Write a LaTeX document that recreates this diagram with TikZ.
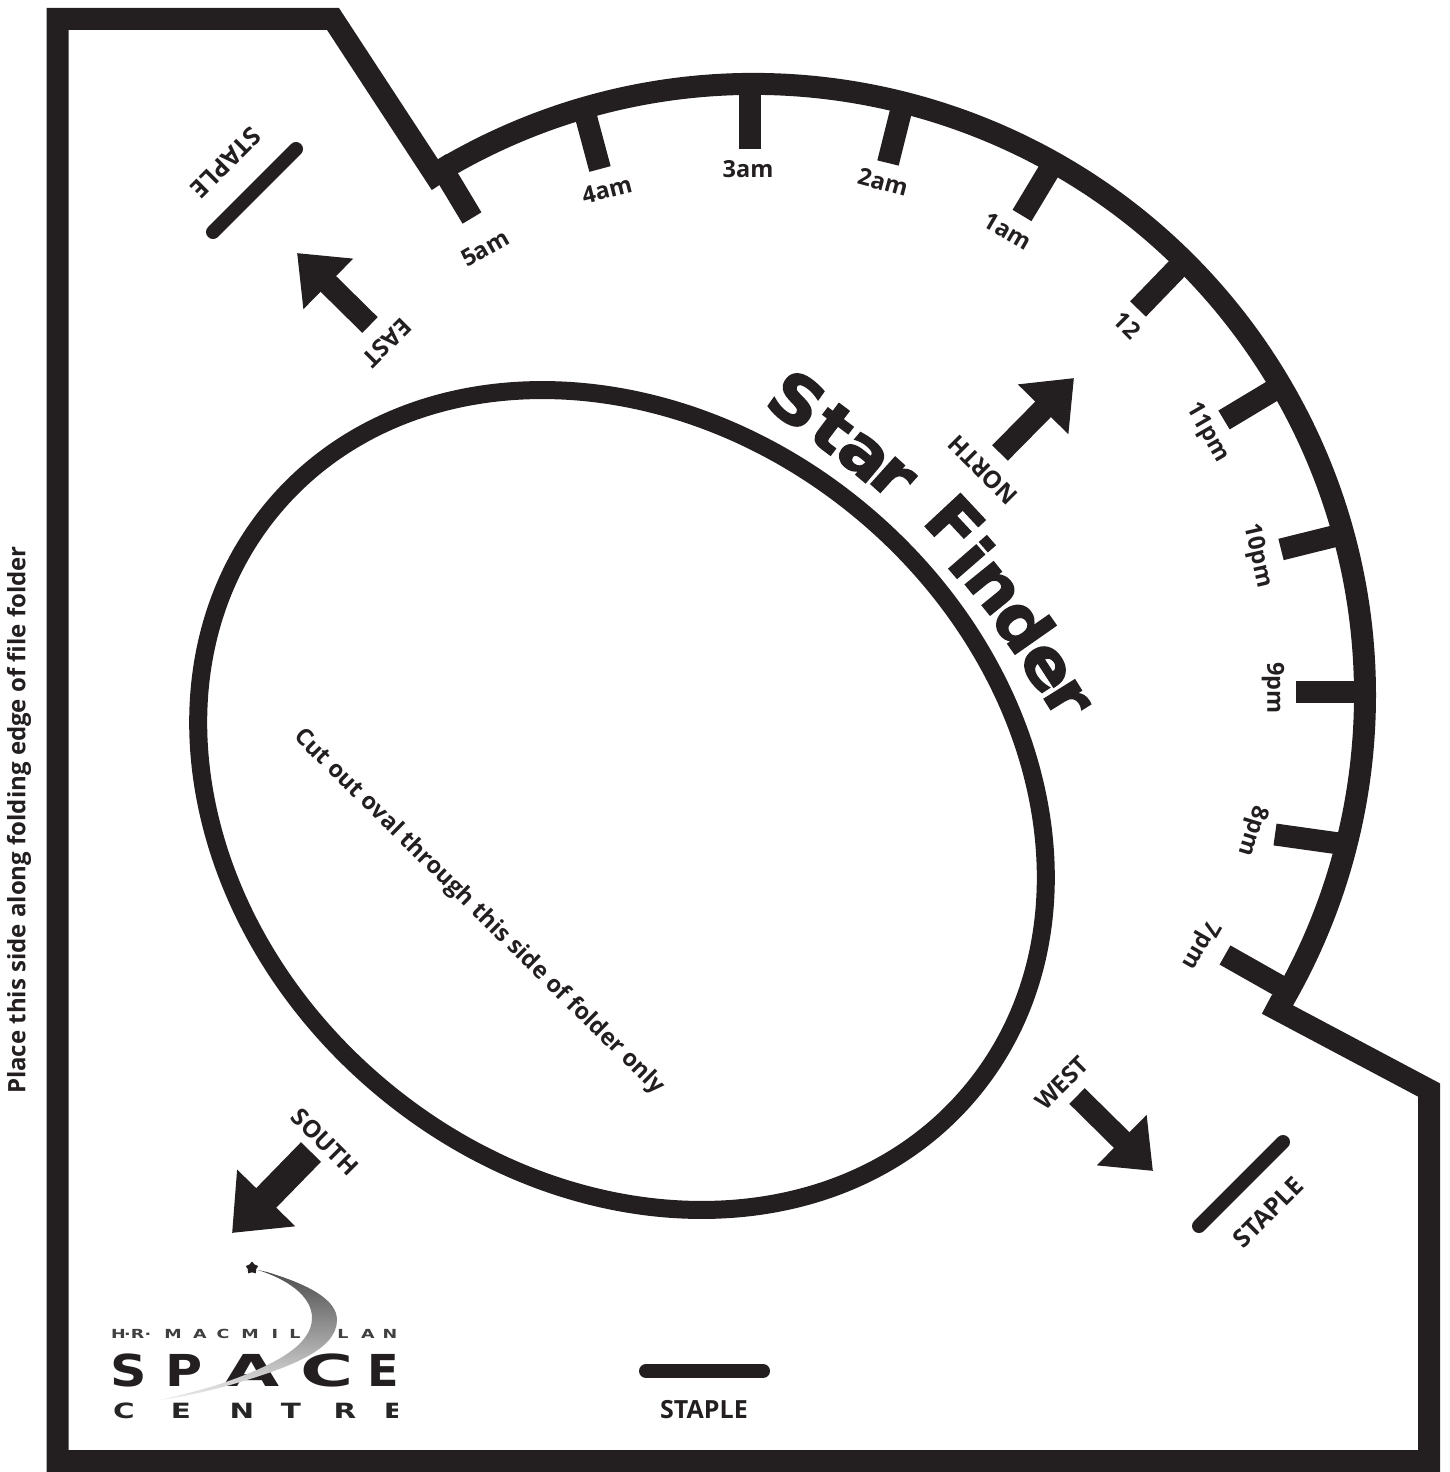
\documentclass[tikz,border=0pt]{standalone}
\usepackage{fontspec}
\setmainfont{Open Sans}
\newfontfamily\titlefont[BoldFeatures={FakeBold=2.2,FakeStretch=1.08}]{DejaVu Sans}
\newfontfamily\logofont{DejaVu Sans}
\usetikzlibrary{arrows.meta,shapes.geometric}
\definecolor{ink}{HTML}{231F20}

\begin{document}
\begin{tikzpicture}[
  x=1pt,y=-1pt,
  outline/.style={draw=ink,line width=22pt,miter limit=10},
  tickmark/.style={draw=ink,line width=22pt},
  staplemark/.style={draw=ink,line width=14pt,line cap=round},
  pointer/.style={draw=ink,line width=22pt,-{Triangle[length=44pt,width=68pt,fill=ink]}},
  bigpointer/.style={draw=ink,line width=28pt,-{Triangle[length=49pt,width=78pt,fill=ink]}},
  hourlabel/.style={text=ink,font=\bfseries\fontsize{23.5}{23.5}\selectfont,inner sep=0pt},
  dirlabel/.style={text=ink,font=\fontsize{24}{24}\selectfont\bfseries,inner sep=0pt},
  staplelabel/.style={text=ink,font=\fontsize{25}{25}\selectfont\bfseries,inner sep=0pt},
  titleletter/.style={text=ink,font=\titlefont\bfseries\fontsize{66}{66}\selectfont,inner sep=0pt},
  logoletter/.style={text=ink,inner sep=0pt,transform shape}
]
  \useasboundingbox (0,0) rectangle (1450,1472);
  \coordinate (hub) at (754,695);

  % folder outline and oval
  \draw[outline] (1267,1004) -- (1429,1090) -- (1429,1461) -- (57.5,1461)
    -- (57.5,19) -- (333,19) -- (441,184);
  \draw[draw=ink,line width=18pt] (622,800) ellipse[x radius=455,y radius=375,rotate=-40];

  % hour scale
  \draw[tickmark] (hub) ++(120:611pt) arc[start angle=120,end angle=-31,radius=611pt];
  \foreach \hr/\ix/\iy/\ang/\lx/\ly/\rot in {5am/472/218/121/485/248/30,4am/600/169/105/607/190/14,
    3am/750/149/90/748/169/0,2am/888/163/76/883/182/-15,1am/1022/215.5/59/1008/231/-30,
    12/1138/309/46/1127/325/-45,11pm/1224/420/31/1207/433/-60,10pm/1281/549.5/14/1257/556/-77,
    9pm/1296/691.5/0/1273/688/-90,8pm/1275/834.5/-8/1252/831/-107,7pm/1225/955/-29.5/1200/945/-120}{
    \draw[tickmark] (\ix,\iy) -- ++(\ang:68pt);
    \node[hourlabel,rotate=\rot] (lbl\hr) at (\lx,\ly) {\hr};
  }

  % title, set letter by letter along the oval
  \foreach \i/\ch/\px/\py/\ang in {1/S/797/400/-35,2/t/833/428/-37,3/a/863/457/-40,4/r/892/478/-42,
    5/F/955/523/-47,6/i/972/557/-49,7/n/992/588/-51,8/d/1024/624/-55,9/e/1045/668/-57,10/r/1066/699/-58}{
    \node[titleletter,rotate=\ang] (title\i) at (\px,\py) {\ch};
  }

  % direction arrows
  \coordinate (northtail) at (1000,453);
  \coordinate (northtip) at (1074,378);
  \coordinate (easttail) at (370,325);
  \coordinate (easttip) at (297,253);
  \coordinate (westtail) at (1077,1096);
  \coordinate (westtip) at (1153,1171);
  \coordinate (southtail) at (311,1152);
  \coordinate (southtip) at (232,1233);
  \draw[pointer] (northtail) -- (northtip);
  \draw[pointer] (easttail) -- (easttip);
  \draw[pointer] (westtail) -- (westtip);
  \draw[bigpointer] (southtail) -- (southtip);
  \node[dirlabel,rotate=135] (north) at (983,470) {NORTH};
  \node[dirlabel,rotate=225] (east) at (387,343) {EAST};
  \node[dirlabel,rotate=45] (west) at (1062,1083) {WEST};
  \node[dirlabel,rotate=-45] (south) at (325,1142) {SOUTH};

  % staples
  \coordinate (stapleAa) at (296,149);
  \coordinate (stapleAb) at (213,232);
  \coordinate (stapleBa) at (1283,1142);
  \coordinate (stapleBb) at (1199,1226);
  \coordinate (stapleCa) at (646,1371);
  \coordinate (stapleCb) at (763,1371);
  \draw[staplemark] (stapleAa) -- (stapleAb);
  \draw[staplemark] (stapleBa) -- (stapleBb);
  \draw[staplemark] (stapleCa) -- (stapleCb);
  \node[staplelabel,rotate=225] (stapleA) at (226,163) {STAPLE};
  \node[staplelabel,rotate=45] (stapleB) at (1268,1212) {STAPLE};
  \node[staplelabel] (stapleC) at (704,1410) {STAPLE};

  % notes
  \node[dirlabel,rotate=90] (foldnote) at (19,820) {Place this side along folding edge of file folder};
  \node[dirlabel,rotate=-44.6,font=\fontsize{23.5}{23.5}\selectfont\bfseries] (cutnote) at (479,912) {Cut out oval through this side of folder only};

  % logo
  \begin{scope}
    \clip (100,1255) rectangle (397,1430);
    \foreach \ch/\px in {H/118.5,./127.5,R/137.5,./148,M/173,A/200,C/223,M/250,I/275,L/295,L/343,A/368,N/390}{
      \node[logoletter,text=black!75,font=\logofont\bfseries\fontsize{12.5}{12.5}\selectfont,xscale=1.4] (top\px) at (\px,1334) {\ch};
    }
    \foreach \ch/\px/\sx in {S/129/1.15,P/184/1.15,A/252/1.65,C/327/1.65,E/383/1.05}{
      \node[logoletter,font=\logofont\bfseries\fontsize{44}{44}\selectfont,xscale=\sx] (mid\px) at (\px,1370) {\ch};
    }
    \foreach \ch/\px in {C/124,E/181,N/242,T/291,R/345,E/394}{
      \node[logoletter,text=black!85,font=\logofont\bfseries\fontsize{21}{21}\selectfont,xscale=1.4] (low\px) at (\px,1411) {\ch};
    }
    \path[top color=black!70,bottom color=black!8]
      (258,1270) -- (267,1272) .. controls (310,1285) and (337,1300) .. (337,1320)
      .. controls (337,1350) and (290,1368) .. (223,1387)
      .. controls (200,1393) and (180,1397) .. (160,1400)
      .. controls (185,1394) and (205,1389) .. (223,1383)
      .. controls (275,1365) and (312,1345) .. (312,1318)
      .. controls (312,1300) and (295,1282) .. (258,1270) -- cycle;
    \node[star,star points=5,fill=ink,inner sep=0pt,minimum size=13pt] (logostar) at (252,1268) {};
  \end{scope}
\end{tikzpicture}
\end{document}
